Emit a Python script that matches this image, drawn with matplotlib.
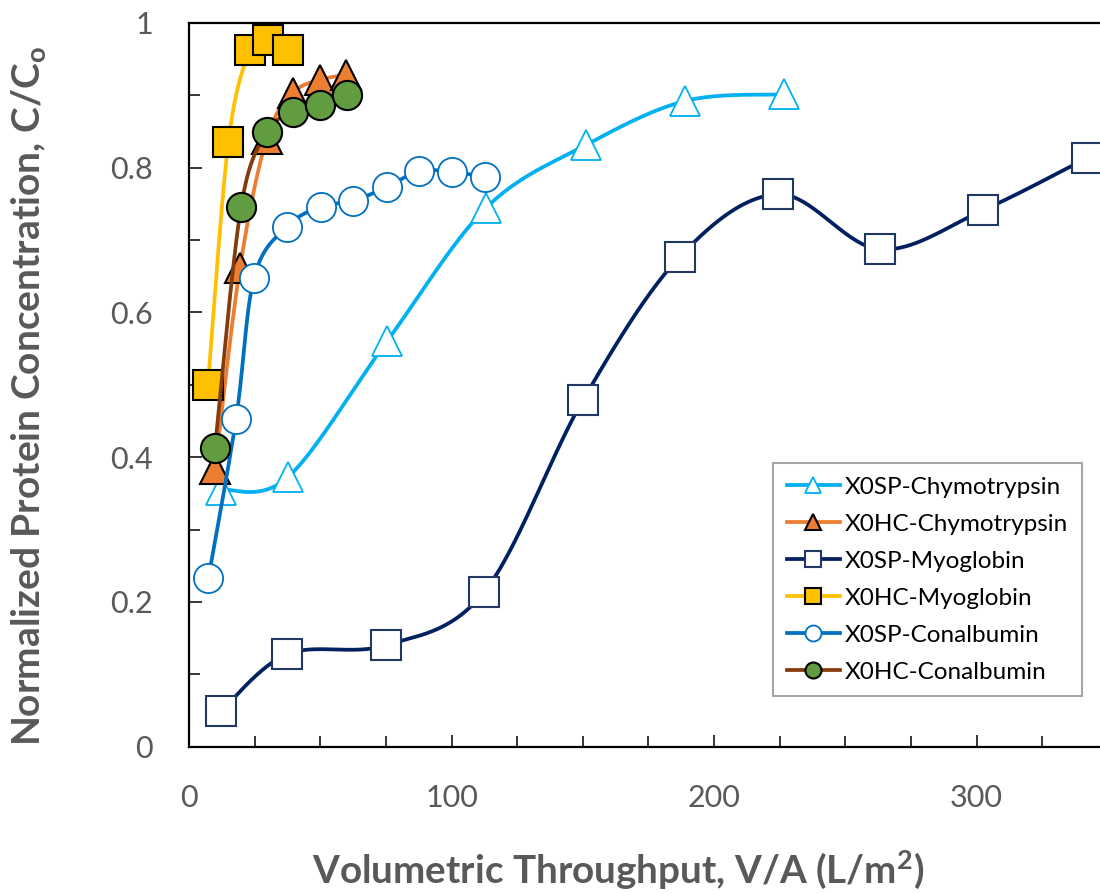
import numpy as np
import matplotlib
matplotlib.use('Agg')
import matplotlib.pyplot as plt
from matplotlib.lines import Line2D
from matplotlib.ticker import MultipleLocator, FuncFormatter

# values
sp_chymo_x = [12.2, 37.6, 75.4, 113.1, 151.2, 189.1, 226.7]
sp_chymo_y = [0.355, 0.372, 0.560, 0.744, 0.831, 0.892, 0.901]

hc_chymo_x = [9.9, 19.4, 29.6, 39.7, 49.8, 59.8]
hc_chymo_y = [0.384, 0.661, 0.840, 0.903, 0.921, 0.928]

sp_myo_x = [12.2, 37.5, 75.0, 112.5, 150.1, 187.0, 224.5, 263.1, 302.4, 342.0]
sp_myo_y = [0.049, 0.128, 0.140, 0.214, 0.479, 0.677, 0.763, 0.687, 0.741, 0.813]

hc_myo_x = [7.2, 15.0, 23.2, 30.1, 37.7]
hc_myo_y = [0.500, 0.835, 0.962, 0.976, 0.962]

sp_conal_x = [7.4, 17.9, 24.8, 37.2, 50.2, 62.6, 75.3, 87.7, 100.2, 112.8]
sp_conal_y = [0.233, 0.452, 0.648, 0.718, 0.746, 0.754, 0.773, 0.795, 0.794, 0.787]

hc_conal_x = [9.9, 19.8, 29.8, 39.7, 49.8, 60.3]
hc_conal_y = [0.413, 0.745, 0.849, 0.876, 0.887, 0.900]

labels = ['X0SP-Chymotrypsin', 'X0HC-Chymotrypsin', 'X0SP-Myoglobin',
          'X0HC-Myoglobin', 'X0SP-Conalbumin', 'X0HC-Conalbumin']

GRAY = '#595959'
plt.rcParams['font.family'] = ['Lato', 'DejaVu Sans']
plt.rcParams['mathtext.default'] = 'regular'


def smooth(x, y, n=40):
    # excel style smoothed line (catmull-rom bezier)
    pts = np.column_stack([x, y]).astype(float)
    p = np.vstack([pts[0], pts, pts[-1]])
    t = np.linspace(0, 1, n)[:, None]
    segs = []
    for i in range(1, len(p) - 2):
        p0, p1, p2, p3 = p[i - 1], p[i], p[i + 1], p[i + 2]
        c1 = p1 + (p2 - p0) / 6
        c2 = p2 - (p3 - p1) / 6
        segs.append((1 - t) ** 3 * p1 + 3 * (1 - t) ** 2 * t * c1 + 3 * (1 - t) * t ** 2 * c2 + t ** 3 * p2)
    return np.vstack(segs)


# label, x, y, line colour, marker, face, edge, edge width
series = [
    (labels[0], sp_chymo_x, sp_chymo_y, '#00B0F0', '^', 'white', '#00B0F0', 1.3),
    (labels[1], hc_chymo_x, hc_chymo_y, '#ED7D31', '^', '#ED7D31', 'black', 1.5),
    (labels[2], sp_myo_x, sp_myo_y, '#002060', 's', 'white', '#1F3864', 1.5),
    (labels[3], hc_myo_x, hc_myo_y, '#FFC000', 's', '#FFC000', 'black', 1.5),
    (labels[4], sp_conal_x, sp_conal_y, '#0070C0', 'o', 'white', '#0070C0', 1.3),
    (labels[5], hc_conal_x, hc_conal_y, '#843C0C', 'o', '#629C40', 'black', 1.5),
]

fig = plt.figure(figsize=(11, 8.93), dpi=100)
ax = fig.add_axes([189 / 1100, 1 - 746.7 / 893, 911 / 1100, 724 / 893])

handles = []
for i, (lab, x, y, lc, m, fc, ec, mew) in enumerate(series):
    curve = smooth(x, y)
    ax.plot(curve[:, 0], curve[:, 1], color=lc, lw=2.7, zorder=3 + 2 * i,
            solid_capstyle='round')
    ax.plot(x, y, ls='none', marker=m, ms=21, mfc=fc, mec=ec, mew=mew,
            zorder=4 + 2 * i, clip_on=False)
    handles.append(Line2D([], [], color=lc, lw=2.7, marker=m, ms=11.5,
                          mfc=fc, mec=ec, mew=mew))

ax.set_xlim(0, 347)
ax.set_ylim(0, 1)
ax.xaxis.set_major_locator(MultipleLocator(100))
ax.xaxis.set_minor_locator(MultipleLocator(25))
ax.yaxis.set_major_locator(MultipleLocator(0.2))
ax.yaxis.set_minor_locator(MultipleLocator(0.1))
ax.yaxis.set_major_formatter(FuncFormatter(lambda v, p: '%g' % round(v, 2)))
ax.tick_params(which='both', direction='in', width=1.1, color='black',
               labelcolor=GRAY, labelsize=22, pad=26)
ax.tick_params(which='major', length=9)
ax.tick_params(which='minor', length=8)
ax.tick_params(axis='x', pad=27)

for side in ['left', 'bottom', 'top']:
    ax.spines[side].set_linewidth(1.6)
ax.spines['right'].set_visible(False)

leg = ax.legend(handles, labels, loc='upper left',
                bbox_to_anchor=(773.3 / 1100, 1 - 463.3 / 893),
                bbox_transform=fig.transFigure, fontsize=17.5, frameon=True,
                fancybox=False, edgecolor='#A6A6A6', framealpha=1,
                handlelength=2.2, handletextpad=0.2, borderpad=0.55,
                labelspacing=0.66, borderaxespad=0)
leg.get_frame().set_linewidth(1.5)
leg.set_zorder(20)

xl = fig.text(618.4 / 1100, 1 - 883 / 893, r'Volumetric Throughput, V/A (L/m$^\mathregular{2}$)',
              ha='center', va='baseline', fontweight='bold', color=GRAY, fontsize=26)
yl = fig.text(29 / 1100, 1 - 396 / 893,
              r'Normalized Protein Concentration, C/C$_\mathregular{o}$',
              rotation=90, ha='center', va='center', fontweight='bold',
              color=GRAY, fontsize=26)

# fit the axis titles to their length in the reference
fig.canvas.draw()
r = fig.canvas.get_renderer()
xl.set_fontsize(26 * 613 / xl.get_window_extent(r).width)
yl.set_fontsize(26 * 701 / yl.get_window_extent(r).height)

fig.savefig('out.png', dpi=100)
